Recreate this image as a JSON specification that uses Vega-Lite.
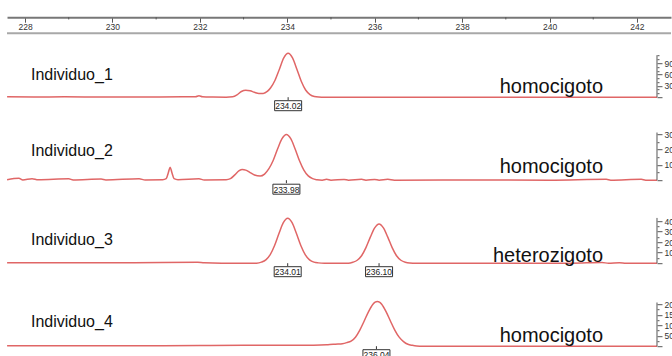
{
  "$schema": "https://vega.github.io/schema/vega-lite/v6.json",
  "padding": {"left": 4, "top": 16.2, "right": 0, "bottom": 0},
  "background": "white",
  "spacing": 0,
  "config": {"view": {"stroke": null}, "concat": {"spacing": 0}, "text": {"font": "Liberation Sans"}},
  "resolve": {"scale": {"x": "independent", "y": "independent"}},
  "datasets": {
    "traces": [
      {"ind": "Individuo_1", "bp": 227.59, "rfu": 10}, {"ind": "Individuo_1", "bp": 228.2, "rfu": 6}, {"ind": "Individuo_1", "bp": 228.9, "rfu": 9}, {"ind": "Individuo_1", "bp": 229.6, "rfu": 5}, {"ind": "Individuo_1", "bp": 230.3, "rfu": 8}, {"ind": "Individuo_1", "bp": 231.0, "rfu": 6}, {"ind": "Individuo_1", "bp": 231.6, "rfu": 9}, {"ind": "Individuo_1", "bp": 231.9, "rfu": 10}, {"ind": "Individuo_1", "bp": 231.98, "rfu": 40}, {"ind": "Individuo_1", "bp": 232.06, "rfu": 10}, {"ind": "Individuo_1", "bp": 232.3, "rfu": 3}, {"ind": "Individuo_1", "bp": 232.6, "rfu": 0}, {"ind": "Individuo_1", "bp": 232.75, "rfu": 10}, {"ind": "Individuo_1", "bp": 232.85, "rfu": 60}, {"ind": "Individuo_1", "bp": 232.95, "rfu": 150}, {"ind": "Individuo_1", "bp": 233.05, "rfu": 185}, {"ind": "Individuo_1", "bp": 233.15, "rfu": 170}, {"ind": "Individuo_1", "bp": 233.25, "rfu": 130}, {"ind": "Individuo_1", "bp": 233.35, "rfu": 100}, {"ind": "Individuo_1", "bp": 233.45, "rfu": 100}, {"ind": "Individuo_1", "bp": 233.55, "rfu": 160}, {"ind": "Individuo_1", "bp": 233.62, "rfu": 250}, {"ind": "Individuo_1", "bp": 233.72, "rfu": 450}, {"ind": "Individuo_1", "bp": 233.82, "rfu": 740}, {"ind": "Individuo_1", "bp": 233.92, "rfu": 1040}, {"ind": "Individuo_1", "bp": 234.02, "rfu": 1164}, {"ind": "Individuo_1", "bp": 234.12, "rfu": 1040}, {"ind": "Individuo_1", "bp": 234.22, "rfu": 740}, {"ind": "Individuo_1", "bp": 234.32, "rfu": 420}, {"ind": "Individuo_1", "bp": 234.42, "rfu": 190}, {"ind": "Individuo_1", "bp": 234.52, "rfu": 70}, {"ind": "Individuo_1", "bp": 234.62, "rfu": 20}, {"ind": "Individuo_1", "bp": 234.72, "rfu": 5}, {"ind": "Individuo_1", "bp": 234.85, "rfu": 0}, {"ind": "Individuo_1", "bp": 236.0, "rfu": 0}, {"ind": "Individuo_1", "bp": 238.0, "rfu": 0}, {"ind": "Individuo_1", "bp": 240.0, "rfu": 0}, {"ind": "Individuo_1", "bp": 242.46, "rfu": 0},

      {"ind": "Individuo_2", "bp": 227.59, "rfu": 3}, {"ind": "Individuo_2", "bp": 227.86, "rfu": 12}, {"ind": "Individuo_2", "bp": 227.95, "rfu": 2}, {"ind": "Individuo_2", "bp": 228.16, "rfu": 10}, {"ind": "Individuo_2", "bp": 228.3, "rfu": 3}, {"ind": "Individuo_2", "bp": 229.0, "rfu": 9}, {"ind": "Individuo_2", "bp": 229.1, "rfu": 2}, {"ind": "Individuo_2", "bp": 229.74, "rfu": 8}, {"ind": "Individuo_2", "bp": 229.85, "rfu": 2}, {"ind": "Individuo_2", "bp": 230.61, "rfu": 9}, {"ind": "Individuo_2", "bp": 230.75, "rfu": 2}, {"ind": "Individuo_2", "bp": 231.15, "rfu": 3}, {"ind": "Individuo_2", "bp": 231.23, "rfu": 10}, {"ind": "Individuo_2", "bp": 231.28, "rfu": 50}, {"ind": "Individuo_2", "bp": 231.32, "rfu": 85}, {"ind": "Individuo_2", "bp": 231.36, "rfu": 50}, {"ind": "Individuo_2", "bp": 231.41, "rfu": 10}, {"ind": "Individuo_2", "bp": 231.5, "rfu": 3}, {"ind": "Individuo_2", "bp": 231.98, "rfu": 9}, {"ind": "Individuo_2", "bp": 232.1, "rfu": 2}, {"ind": "Individuo_2", "bp": 232.6, "rfu": 3}, {"ind": "Individuo_2", "bp": 232.7, "rfu": 10}, {"ind": "Individuo_2", "bp": 232.8, "rfu": 35}, {"ind": "Individuo_2", "bp": 232.9, "rfu": 62}, {"ind": "Individuo_2", "bp": 232.97, "rfu": 70}, {"ind": "Individuo_2", "bp": 233.05, "rfu": 66}, {"ind": "Individuo_2", "bp": 233.15, "rfu": 50}, {"ind": "Individuo_2", "bp": 233.25, "rfu": 34}, {"ind": "Individuo_2", "bp": 233.38, "rfu": 27}, {"ind": "Individuo_2", "bp": 233.48, "rfu": 40}, {"ind": "Individuo_2", "bp": 233.58, "rfu": 75}, {"ind": "Individuo_2", "bp": 233.68, "rfu": 130}, {"ind": "Individuo_2", "bp": 233.78, "rfu": 205}, {"ind": "Individuo_2", "bp": 233.88, "rfu": 271}, {"ind": "Individuo_2", "bp": 233.98, "rfu": 298}, {"ind": "Individuo_2", "bp": 234.08, "rfu": 271}, {"ind": "Individuo_2", "bp": 234.18, "rfu": 204}, {"ind": "Individuo_2", "bp": 234.28, "rfu": 127}, {"ind": "Individuo_2", "bp": 234.38, "rfu": 66}, {"ind": "Individuo_2", "bp": 234.48, "rfu": 28}, {"ind": "Individuo_2", "bp": 234.58, "rfu": 10}, {"ind": "Individuo_2", "bp": 234.68, "rfu": 3}, {"ind": "Individuo_2", "bp": 234.8, "rfu": 0}, {"ind": "Individuo_2", "bp": 234.9, "rfu": 6}, {"ind": "Individuo_2", "bp": 235.0, "rfu": 0}, {"ind": "Individuo_2", "bp": 235.3, "rfu": 5}, {"ind": "Individuo_2", "bp": 235.4, "rfu": 0}, {"ind": "Individuo_2", "bp": 235.7, "rfu": 6}, {"ind": "Individuo_2", "bp": 235.8, "rfu": 0}, {"ind": "Individuo_2", "bp": 236.0, "rfu": 5}, {"ind": "Individuo_2", "bp": 236.1, "rfu": 0}, {"ind": "Individuo_2", "bp": 236.3, "rfu": 6}, {"ind": "Individuo_2", "bp": 236.45, "rfu": 0}, {"ind": "Individuo_2", "bp": 238.0, "rfu": 2}, {"ind": "Individuo_2", "bp": 240.0, "rfu": 0}, {"ind": "Individuo_2", "bp": 241.3, "rfu": 6}, {"ind": "Individuo_2", "bp": 241.4, "rfu": 0}, {"ind": "Individuo_2", "bp": 242.1, "rfu": 6}, {"ind": "Individuo_2", "bp": 242.2, "rfu": 0}, {"ind": "Individuo_2", "bp": 242.46, "rfu": 0},

      {"ind": "Individuo_3", "bp": 227.59, "rfu": 5}, {"ind": "Individuo_3", "bp": 229.0, "rfu": 3}, {"ind": "Individuo_3", "bp": 230.5, "rfu": 5}, {"ind": "Individuo_3", "bp": 231.95, "rfu": 10}, {"ind": "Individuo_3", "bp": 232.1, "rfu": 3}, {"ind": "Individuo_3", "bp": 232.5, "rfu": 0}, {"ind": "Individuo_3", "bp": 233.3, "rfu": 0}, {"ind": "Individuo_3", "bp": 233.41, "rfu": 10}, {"ind": "Individuo_3", "bp": 233.51, "rfu": 32}, {"ind": "Individuo_3", "bp": 233.61, "rfu": 82}, {"ind": "Individuo_3", "bp": 233.71, "rfu": 169}, {"ind": "Individuo_3", "bp": 233.81, "rfu": 283}, {"ind": "Individuo_3", "bp": 233.91, "rfu": 386}, {"ind": "Individuo_3", "bp": 234.01, "rfu": 428}, {"ind": "Individuo_3", "bp": 234.11, "rfu": 386}, {"ind": "Individuo_3", "bp": 234.21, "rfu": 283}, {"ind": "Individuo_3", "bp": 234.31, "rfu": 169}, {"ind": "Individuo_3", "bp": 234.41, "rfu": 82}, {"ind": "Individuo_3", "bp": 234.51, "rfu": 32}, {"ind": "Individuo_3", "bp": 234.61, "rfu": 10}, {"ind": "Individuo_3", "bp": 234.71, "rfu": 3}, {"ind": "Individuo_3", "bp": 234.85, "rfu": 0}, {"ind": "Individuo_3", "bp": 235.4, "rfu": 0}, {"ind": "Individuo_3", "bp": 235.5, "rfu": 9}, {"ind": "Individuo_3", "bp": 235.6, "rfu": 28}, {"ind": "Individuo_3", "bp": 235.7, "rfu": 71}, {"ind": "Individuo_3", "bp": 235.8, "rfu": 148}, {"ind": "Individuo_3", "bp": 235.9, "rfu": 248}, {"ind": "Individuo_3", "bp": 236.0, "rfu": 337}, {"ind": "Individuo_3", "bp": 236.1, "rfu": 374}, {"ind": "Individuo_3", "bp": 236.2, "rfu": 337}, {"ind": "Individuo_3", "bp": 236.3, "rfu": 248}, {"ind": "Individuo_3", "bp": 236.4, "rfu": 148}, {"ind": "Individuo_3", "bp": 236.5, "rfu": 71}, {"ind": "Individuo_3", "bp": 236.6, "rfu": 28}, {"ind": "Individuo_3", "bp": 236.7, "rfu": 9}, {"ind": "Individuo_3", "bp": 236.8, "rfu": 2}, {"ind": "Individuo_3", "bp": 236.95, "rfu": 0}, {"ind": "Individuo_3", "bp": 240.5, "rfu": 0}, {"ind": "Individuo_3", "bp": 241.2, "rfu": 6}, {"ind": "Individuo_3", "bp": 241.35, "rfu": 0}, {"ind": "Individuo_3", "bp": 241.6, "rfu": 5}, {"ind": "Individuo_3", "bp": 241.75, "rfu": 0}, {"ind": "Individuo_3", "bp": 242.46, "rfu": 0},

      {"ind": "Individuo_4", "bp": 227.59, "rfu": 2}, {"ind": "Individuo_4", "bp": 230.0, "rfu": 2}, {"ind": "Individuo_4", "bp": 232.0, "rfu": 3}, {"ind": "Individuo_4", "bp": 233.0, "rfu": 4}, {"ind": "Individuo_4", "bp": 234.0, "rfu": 4}, {"ind": "Individuo_4", "bp": 234.6, "rfu": 5}, {"ind": "Individuo_4", "bp": 234.9, "rfu": 7}, {"ind": "Individuo_4", "bp": 235.05, "rfu": 9}, {"ind": "Individuo_4", "bp": 235.16, "rfu": 10}, {"ind": "Individuo_4", "bp": 235.26, "rfu": 12}, {"ind": "Individuo_4", "bp": 235.36, "rfu": 17}, {"ind": "Individuo_4", "bp": 235.46, "rfu": 24}, {"ind": "Individuo_4", "bp": 235.56, "rfu": 43}, {"ind": "Individuo_4", "bp": 235.66, "rfu": 77}, {"ind": "Individuo_4", "bp": 235.76, "rfu": 120}, {"ind": "Individuo_4", "bp": 235.86, "rfu": 165}, {"ind": "Individuo_4", "bp": 235.96, "rfu": 200}, {"ind": "Individuo_4", "bp": 236.01, "rfu": 210}, {"ind": "Individuo_4", "bp": 236.06, "rfu": 213}, {"ind": "Individuo_4", "bp": 236.11, "rfu": 210}, {"ind": "Individuo_4", "bp": 236.16, "rfu": 200}, {"ind": "Individuo_4", "bp": 236.26, "rfu": 165}, {"ind": "Individuo_4", "bp": 236.36, "rfu": 120}, {"ind": "Individuo_4", "bp": 236.46, "rfu": 77}, {"ind": "Individuo_4", "bp": 236.56, "rfu": 43}, {"ind": "Individuo_4", "bp": 236.66, "rfu": 22}, {"ind": "Individuo_4", "bp": 236.76, "rfu": 9}, {"ind": "Individuo_4", "bp": 236.86, "rfu": 4}, {"ind": "Individuo_4", "bp": 236.96, "rfu": 1}, {"ind": "Individuo_4", "bp": 237.1, "rfu": 0}, {"ind": "Individuo_4", "bp": 242.46, "rfu": 0}
    ],
    "peaks": [
      {"ind": "Individuo_1", "size": 234.02, "label": "234.02"},
      {"ind": "Individuo_2", "size": 233.98, "label": "233.98"},
      {"ind": "Individuo_3", "size": 234.01, "label": "234.01"},
      {"ind": "Individuo_3", "size": 236.10, "label": "236.10"},
      {"ind": "Individuo_4", "size": 236.04, "label": "236.04"}
    ],
    "samples": [
      {"ind": "Individuo_1", "genotype": "homocigoto"},
      {"ind": "Individuo_2", "genotype": "homocigoto"},
      {"ind": "Individuo_3", "genotype": "heterozigoto"},
      {"ind": "Individuo_4", "genotype": "homocigoto"}
    ],
    "minorTicks": [{"bp": 229}, {"bp": 231}, {"bp": 233}, {"bp": 235}, {"bp": 237}, {"bp": 239}, {"bp": 241}]
  },
  "vconcat": [
    {
      "width": 664, "height": 16,
      "resolve": {"axis": {"x": "independent", "y": "independent"}},
      "layer": [
        {
          "data": {"values": [{}]},
          "mark": {"type": "rule", "color": "#a8a8a8", "strokeWidth": 2},
          "encoding": {
            "x": {"datum": 227.588, "type": "quantitative",
              "scale": {"domain": [227.588, 242.779], "nice": false, "zero": false},
              "axis": {"orient": "top", "values": [228, 230, 232, 234, 236, 238, 240, 242], "title": null, "grid": false,
                "domainColor": "#777", "domainWidth": 2, "tickColor": "#555", "tickSize": -5, "tickWidth": 1,
                "labelPadding": -9, "labelFontSize": 8.5, "labelColor": "#333", "labelFont": "Liberation Sans", "labelFlush": false}},
            "x2": {"datum": 242.779},
            "y": {"datum": 0, "type": "quantitative", "scale": {"domain": [0, 1], "nice": false}, "axis": null}
          }
        },
        {
          "data": {"name": "minorTicks"},
          "mark": {"type": "rule", "color": "#555", "strokeWidth": 1},
          "encoding": {
            "x": {"field": "bp", "type": "quantitative", "axis": null},
            "y": {"datum": 1, "type": "quantitative", "axis": null},
            "y2": {"datum": 0.86}
          }
        }
      ]
    },
    {
      "width": 650, "height": 83,
      "resolve": {"axis": {"x": "independent", "y": "independent"}},
      "layer": [
        {
          "data": {"name": "traces"},
          "transform": [{"filter": "datum.ind === 'Individuo_1'"}],
          "mark": {"type": "line", "color": "#e06666", "strokeWidth": 1.5, "interpolate": "monotone"},
          "encoding": {
            "x": {"field": "bp", "type": "quantitative", "scale": {"domain": [227.588, 242.459], "nice": false, "zero": false}, "axis": null},
            "y": {"field": "rfu", "type": "quantitative", "scale": {"domain": [-529.4, 1667.6], "nice": false, "zero": false},
              "axis": {"orient": "right", "title": null, "grid": false, "domain": false,
                "values": [0, 100, 200, 300, 400, 500, 600, 700, 800, 900, 1000, 1100],
                "labelExpr": "datum.value > 0 && datum.value % 300 === 0 ? datum.label : ''",
                "tickSize": {"condition": {"test": "datum.value % 300 === 0", "value": 5}, "value": 2},
                "tickColor": "#555", "labelFontSize": 8.5, "labelPadding": 2, "labelColor": "#333", "labelFont": "Liberation Sans"}}
          }
        },
        {
          "data": {"values": [{}]},
          "mark": {"type": "rule", "color": "#555", "strokeWidth": 1},
          "encoding": {"x": {"datum": 242.459, "type": "quantitative", "axis": null}, "y": {"datum": 0, "type": "quantitative", "axis": null}, "y2": {"datum": 1111}}
        },
        {
          "data": {"name": "peaks"},
          "transform": [{"filter": "datum.ind === 'Individuo_1'"}],
          "mark": {"type": "rule", "color": "#333", "y2Offset": 3},
          "encoding": {"x": {"field": "size", "type": "quantitative", "axis": null}, "y": {"datum": 0, "type": "quantitative", "axis": null}, "y2": {"datum": 0}}
        },
        {
          "data": {"name": "peaks"},
          "transform": [{"filter": "datum.ind === 'Individuo_1'"}],
          "mark": {"type": "point", "shape": "M-1,-0.37H1V0.37H-1Z", "size": 729, "filled": true, "fill": "white", "stroke": "#333", "strokeWidth": 1, "opacity": 1, "yOffset": 8.5},
          "encoding": {"x": {"field": "size", "type": "quantitative", "axis": null}, "y": {"datum": 0, "type": "quantitative", "axis": null}}
        },
        {
          "data": {"name": "peaks"},
          "transform": [{"filter": "datum.ind === 'Individuo_1'"}],
          "mark": {"type": "text", "fontSize": 8.5, "color": "#222", "baseline": "middle", "yOffset": 9},
          "encoding": {"x": {"field": "size", "type": "quantitative", "axis": null}, "y": {"datum": 0, "type": "quantitative", "axis": null}, "text": {"field": "label"}}
        },
        {
          "data": {"name": "samples"},
          "transform": [{"filter": "datum.ind === 'Individuo_1'"}],
          "mark": {"type": "text", "fontSize": 16, "color": "#111", "align": "left", "baseline": "middle", "yOffset": -22},
          "encoding": {"x": {"datum": 228.137, "type": "quantitative", "axis": null}, "y": {"datum": 0, "type": "quantitative", "axis": null}, "text": {"field": "ind"}}
        },
        {
          "data": {"name": "samples"},
          "transform": [{"filter": "datum.ind === 'Individuo_1'"}],
          "mark": {"type": "text", "fontSize": 20, "color": "#111", "align": "right", "baseline": "middle", "yOffset": -10},
          "encoding": {"x": {"datum": 241.224, "type": "quantitative", "axis": null}, "y": {"datum": 0, "type": "quantitative", "axis": null}, "text": {"field": "genotype"}}
        }
      ]
    },
    {
      "width": 650, "height": 83,
      "resolve": {"axis": {"x": "independent", "y": "independent"}},
      "layer": [
        {
          "data": {"name": "traces"},
          "transform": [{"filter": "datum.ind === 'Individuo_2'"}],
          "mark": {"type": "line", "color": "#e06666", "strokeWidth": 1.5, "interpolate": "monotone"},
          "encoding": {
            "x": {"field": "bp", "type": "quantitative", "scale": {"domain": [227.588, 242.459], "nice": false, "zero": false}, "axis": null},
            "y": {"field": "rfu", "type": "quantitative", "scale": {"domain": [-130.4, 411], "nice": false, "zero": false},
              "axis": {"orient": "right", "title": null, "grid": false, "domain": false,
                "values": [0, 50, 100, 150, 200, 250, 300],
                "labelExpr": "datum.value > 0 && datum.value % 100 === 0 ? datum.label : ''",
                "tickSize": {"condition": {"test": "datum.value % 100 === 0", "value": 5}, "value": 2},
                "tickColor": "#555", "labelFontSize": 8.5, "labelPadding": 2, "labelColor": "#333", "labelFont": "Liberation Sans"}}
          }
        },
        {
          "data": {"values": [{}]},
          "mark": {"type": "rule", "color": "#555", "strokeWidth": 1},
          "encoding": {"x": {"datum": 242.459, "type": "quantitative", "axis": null}, "y": {"datum": 0, "type": "quantitative", "axis": null}, "y2": {"datum": 311}}
        },
        {
          "data": {"name": "peaks"},
          "transform": [{"filter": "datum.ind === 'Individuo_2'"}],
          "mark": {"type": "rule", "color": "#333", "y2Offset": 3},
          "encoding": {"x": {"field": "size", "type": "quantitative", "axis": null}, "y": {"datum": 0, "type": "quantitative", "axis": null}, "y2": {"datum": 0}}
        },
        {
          "data": {"name": "peaks"},
          "transform": [{"filter": "datum.ind === 'Individuo_2'"}],
          "mark": {"type": "point", "shape": "M-1,-0.37H1V0.37H-1Z", "size": 729, "filled": true, "fill": "white", "stroke": "#333", "strokeWidth": 1, "opacity": 1, "yOffset": 9},
          "encoding": {"x": {"field": "size", "type": "quantitative", "axis": null}, "y": {"datum": 0, "type": "quantitative", "axis": null}}
        },
        {
          "data": {"name": "peaks"},
          "transform": [{"filter": "datum.ind === 'Individuo_2'"}],
          "mark": {"type": "text", "fontSize": 8.5, "color": "#222", "baseline": "middle", "yOffset": 9.5},
          "encoding": {"x": {"field": "size", "type": "quantitative", "axis": null}, "y": {"datum": 0, "type": "quantitative", "axis": null}, "text": {"field": "label"}}
        },
        {
          "data": {"name": "samples"},
          "transform": [{"filter": "datum.ind === 'Individuo_2'"}],
          "mark": {"type": "text", "fontSize": 16, "color": "#111", "align": "left", "baseline": "middle", "yOffset": -29},
          "encoding": {"x": {"datum": 228.137, "type": "quantitative", "axis": null}, "y": {"datum": 0, "type": "quantitative", "axis": null}, "text": {"field": "ind"}}
        },
        {
          "data": {"name": "samples"},
          "transform": [{"filter": "datum.ind === 'Individuo_2'"}],
          "mark": {"type": "text", "fontSize": 20, "color": "#111", "align": "right", "baseline": "middle", "yOffset": -13},
          "encoding": {"x": {"datum": 241.224, "type": "quantitative", "axis": null}, "y": {"datum": 0, "type": "quantitative", "axis": null}, "text": {"field": "genotype"}}
        }
      ]
    },
    {
      "width": 650, "height": 83,
      "resolve": {"axis": {"x": "independent", "y": "independent"}},
      "layer": [
        {
          "data": {"name": "traces"},
          "transform": [{"filter": "datum.ind === 'Individuo_3'"}],
          "mark": {"type": "line", "color": "#e06666", "strokeWidth": 1.5, "interpolate": "monotone"},
          "encoding": {
            "x": {"field": "bp", "type": "quantitative", "scale": {"domain": [227.588, 242.459], "nice": false, "zero": false}, "axis": null},
            "y": {"field": "rfu", "type": "quantitative", "scale": {"domain": [-190.5, 600], "nice": false, "zero": false},
              "axis": {"orient": "right", "title": null, "grid": false, "domain": false,
                "values": [0, 50, 100, 150, 200, 250, 300, 350, 400],
                "labelExpr": "datum.value > 0 && datum.value % 100 === 0 ? datum.label : ''",
                "tickSize": {"condition": {"test": "datum.value % 100 === 0", "value": 5}, "value": 2},
                "tickColor": "#555", "labelFontSize": 8.5, "labelPadding": 2, "labelColor": "#333", "labelFont": "Liberation Sans"}}
          }
        },
        {
          "data": {"values": [{}]},
          "mark": {"type": "rule", "color": "#555", "strokeWidth": 1},
          "encoding": {"x": {"datum": 242.459, "type": "quantitative", "axis": null}, "y": {"datum": 0, "type": "quantitative", "axis": null}, "y2": {"datum": 431}}
        },
        {
          "data": {"name": "peaks"},
          "transform": [{"filter": "datum.ind === 'Individuo_3'"}],
          "mark": {"type": "rule", "color": "#333", "y2Offset": 3},
          "encoding": {"x": {"field": "size", "type": "quantitative", "axis": null}, "y": {"datum": 0, "type": "quantitative", "axis": null}, "y2": {"datum": 0}}
        },
        {
          "data": {"name": "peaks"},
          "transform": [{"filter": "datum.ind === 'Individuo_3'"}],
          "mark": {"type": "point", "shape": "M-1,-0.37H1V0.37H-1Z", "size": 729, "filled": true, "fill": "white", "stroke": "#333", "strokeWidth": 1, "opacity": 1, "yOffset": 8.5},
          "encoding": {"x": {"field": "size", "type": "quantitative", "axis": null}, "y": {"datum": 0, "type": "quantitative", "axis": null}}
        },
        {
          "data": {"name": "peaks"},
          "transform": [{"filter": "datum.ind === 'Individuo_3'"}],
          "mark": {"type": "text", "fontSize": 8.5, "color": "#222", "baseline": "middle", "yOffset": 9},
          "encoding": {"x": {"field": "size", "type": "quantitative", "axis": null}, "y": {"datum": 0, "type": "quantitative", "axis": null}, "text": {"field": "label"}}
        },
        {
          "data": {"name": "samples"},
          "transform": [{"filter": "datum.ind === 'Individuo_3'"}],
          "mark": {"type": "text", "fontSize": 16, "color": "#111", "align": "left", "baseline": "middle", "yOffset": -23},
          "encoding": {"x": {"datum": 228.137, "type": "quantitative", "axis": null}, "y": {"datum": 0, "type": "quantitative", "axis": null}, "text": {"field": "ind"}}
        },
        {
          "data": {"name": "samples"},
          "transform": [{"filter": "datum.ind === 'Individuo_3'"}],
          "mark": {"type": "text", "fontSize": 20, "color": "#111", "align": "right", "baseline": "middle", "yOffset": -7},
          "encoding": {"x": {"datum": 241.224, "type": "quantitative", "axis": null}, "y": {"datum": 0, "type": "quantitative", "axis": null}, "text": {"field": "genotype"}}
        }
      ]
    },
    {
      "width": 650, "height": 83,
      "resolve": {"axis": {"x": "independent", "y": "independent"}},
      "layer": [
        {
          "data": {"name": "traces"},
          "transform": [{"filter": "datum.ind === 'Individuo_4'"}],
          "mark": {"type": "line", "color": "#e06666", "strokeWidth": 1.5, "interpolate": "monotone"},
          "encoding": {
            "x": {"field": "bp", "type": "quantitative", "scale": {"domain": [227.588, 242.459], "nice": false, "zero": false}, "axis": null},
            "y": {"field": "rfu", "type": "quantitative", "scale": {"domain": [-95.2, 300], "nice": false, "zero": false},
              "axis": {"orient": "right", "title": null, "grid": false, "domain": false,
                "values": [0, 25, 50, 75, 100, 125, 150, 175, 200],
                "labelExpr": "datum.value > 0 && datum.value % 50 === 0 ? datum.label : ''",
                "tickSize": {"condition": {"test": "datum.value % 50 === 0", "value": 5}, "value": 2},
                "tickColor": "#555", "labelFontSize": 8.5, "labelPadding": 2, "labelColor": "#333", "labelFont": "Liberation Sans"}}
          }
        },
        {
          "data": {"values": [{}]},
          "mark": {"type": "rule", "color": "#555", "strokeWidth": 1},
          "encoding": {"x": {"datum": 242.459, "type": "quantitative", "axis": null}, "y": {"datum": 0, "type": "quantitative", "axis": null}, "y2": {"datum": 208}}
        },
        {
          "data": {"name": "peaks"},
          "transform": [{"filter": "datum.ind === 'Individuo_4'"}],
          "mark": {"type": "rule", "color": "#333", "y2Offset": 3},
          "encoding": {"x": {"field": "size", "type": "quantitative", "axis": null}, "y": {"datum": 0, "type": "quantitative", "axis": null}, "y2": {"datum": 0}}
        },
        {
          "data": {"name": "peaks"},
          "transform": [{"filter": "datum.ind === 'Individuo_4'"}],
          "mark": {"type": "point", "shape": "M-1,-0.37H1V0.37H-1Z", "size": 729, "filled": true, "fill": "white", "stroke": "#333", "strokeWidth": 1, "opacity": 1, "yOffset": 8.5},
          "encoding": {"x": {"field": "size", "type": "quantitative", "axis": null}, "y": {"datum": 0, "type": "quantitative", "axis": null}}
        },
        {
          "data": {"name": "peaks"},
          "transform": [{"filter": "datum.ind === 'Individuo_4'"}],
          "mark": {"type": "text", "fontSize": 8.5, "color": "#222", "baseline": "middle", "yOffset": 9},
          "encoding": {"x": {"field": "size", "type": "quantitative", "axis": null}, "y": {"datum": 0, "type": "quantitative", "axis": null}, "text": {"field": "label"}}
        },
        {
          "data": {"name": "samples"},
          "transform": [{"filter": "datum.ind === 'Individuo_4'"}],
          "mark": {"type": "text", "fontSize": 16, "color": "#111", "align": "left", "baseline": "middle", "yOffset": -24},
          "encoding": {"x": {"datum": 228.137, "type": "quantitative", "axis": null}, "y": {"datum": 0, "type": "quantitative", "axis": null}, "text": {"field": "ind"}}
        },
        {
          "data": {"name": "samples"},
          "transform": [{"filter": "datum.ind === 'Individuo_4'"}],
          "mark": {"type": "text", "fontSize": 20, "color": "#111", "align": "right", "baseline": "middle", "yOffset": -10},
          "encoding": {"x": {"datum": 241.224, "type": "quantitative", "axis": null}, "y": {"datum": 0, "type": "quantitative", "axis": null}, "text": {"field": "genotype"}}
        }
      ]
    }
  ]
}
